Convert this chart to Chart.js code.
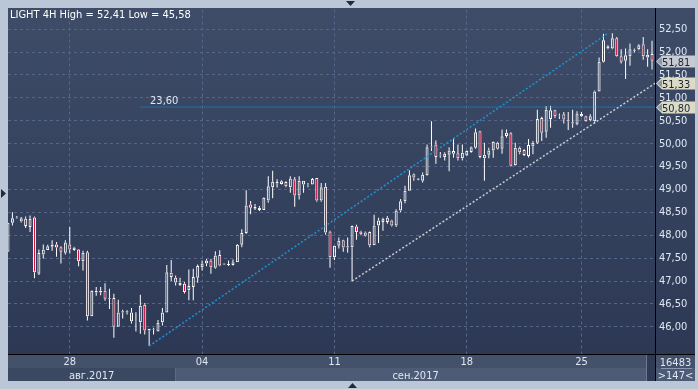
<!DOCTYPE html>
<html>
<head>
<meta charset="utf-8">
<script src="https://cdn.jsdelivr.net/npm/chart.js@4.4.0/dist/chart.umd.min.js"></script>
<style>
  html, body { margin: 0; padding: 0; background: #bbc7d6; }
  canvas { display: block; }
</style>
</head>
<body>
<canvas id="chart" width="698" height="389"></canvas>
<script>
// 4H candles, oldest first (147 visible bars)
const opens = [47.64,48.27,48.37,48.30,48.36,48.18,48.39,47.16,47.58,47.68,47.75,47.80,47.74,47.62,47.80,47.68,47.69,47.43,47.63,46.23,
  46.75,46.75,46.79,46.63,46.63,46.00,46.31,46.31,46.31,46.10,46.10,46.48,45.96,45.93,45.90,46.10,46.31,47.18,47.07,46.91,
  46.94,46.80,46.87,47.07,47.30,47.38,47.45,47.29,47.57,47.36,47.35,47.35,47.41,47.79,48.05,48.67,48.58,48.55,48.55,48.76,
  49.05,49.13,49.12,49.16,49.05,49.22,48.87,49.19,49.10,49.11,49.25,48.76,49.06,48.08,47.52,47.77,47.89,47.76,47.74,48.19,
  48.08,48.06,48.07,47.78,48.21,48.29,48.38,48.32,48.21,48.54,48.74,48.97,49.33,49.24,49.19,49.31,49.92,49.98,49.74,49.71,
  49.76,49.84,49.79,49.68,49.74,49.82,49.91,50.27,49.68,49.76,49.85,50.02,49.89,50.17,50.23,49.53,49.91,49.86,49.73,49.94,
  50.02,50.56,50.26,50.54,50.73,50.61,50.64,50.51,50.47,50.42,50.60,50.60,50.51,50.49,51.14,51.79,52.08,52.08,52.30,51.91,
  51.81,51.91,52.03,52.06,52.17,51.88,51.96];
const highs = [48.27,48.50,48.42,48.40,48.41,48.43,48.41,47.69,47.80,47.79,47.89,47.85,47.76,47.89,48.18,47.75,47.70,47.66,47.66,46.80,
  46.87,46.87,46.95,46.83,46.72,46.59,46.37,46.36,46.41,46.32,46.70,46.52,45.96,45.98,46.15,46.41,47.35,47.46,47.12,47.07,
  46.98,47.25,47.27,47.36,47.45,47.48,47.48,47.65,47.67,47.39,47.45,47.47,47.81,48.13,48.98,48.75,48.68,48.64,48.83,49.29,
  49.41,49.22,49.20,49.18,49.29,49.27,49.29,49.19,49.14,49.25,49.25,49.14,49.14,48.10,47.77,47.95,47.90,47.95,48.21,48.23,
  48.10,48.08,48.08,48.45,48.38,48.38,48.42,48.34,48.57,48.79,49.08,49.42,49.35,49.25,49.37,49.98,50.49,50.07,49.82,49.81,
  49.92,50.12,49.98,49.98,49.85,49.94,50.33,50.28,50.02,49.91,50.05,50.04,50.31,50.31,50.25,50.02,49.94,49.88,50.10,50.06,
  50.74,50.59,50.82,50.83,50.74,50.66,50.69,50.69,50.74,50.71,50.69,50.61,50.64,51.16,51.88,52.40,52.15,52.41,52.33,52.06,
  52.08,52.19,52.08,52.17,52.33,52.06,52.25];
const lows = [47.64,48.21,48.36,48.28,48.16,48.07,47.06,47.13,47.49,47.68,47.66,47.53,47.38,47.58,47.60,47.66,47.32,47.23,46.14,46.23,
  46.68,46.69,46.57,46.39,45.76,46.00,46.18,46.27,46.07,45.90,45.85,45.83,45.58,45.83,45.90,46.03,46.31,47.00,46.90,46.89,
  46.73,46.58,46.58,46.96,47.23,47.32,47.16,47.27,47.32,47.35,47.33,47.34,47.41,47.74,48.03,48.46,48.55,48.53,48.55,48.71,
  48.81,49.04,49.11,49.05,48.93,48.62,48.78,48.93,49.05,49.11,48.73,48.73,48.01,47.29,47.46,47.71,47.64,47.62,47.00,47.90,
  48.00,47.97,47.74,47.78,47.83,48.10,48.25,48.19,48.18,48.50,48.70,48.97,49.19,49.20,49.15,49.30,49.84,49.56,49.69,49.63,
  49.40,49.69,49.63,49.63,49.73,49.80,49.89,49.68,49.19,49.68,49.69,49.87,49.78,50.13,49.50,49.52,49.77,49.73,49.70,49.77,
  49.99,50.06,50.13,50.35,50.56,50.54,50.44,50.30,50.35,50.40,50.58,50.48,50.49,50.44,51.14,51.77,52.06,52.06,51.90,51.75,
  51.41,51.70,51.99,52.04,51.83,51.68,51.62];
const closes = [48.27,48.37,48.39,48.37,48.20,48.36,47.19,47.61,47.69,47.76,47.80,47.73,47.64,47.84,47.69,47.73,47.43,47.62,46.23,46.79,
  46.79,46.79,46.61,46.61,46.00,46.31,46.34,46.34,46.12,46.11,46.46,45.92,45.92,45.94,46.09,46.31,47.19,47.09,46.97,46.96,
  46.76,46.89,47.09,47.33,47.38,47.45,47.30,47.56,47.34,47.38,47.37,47.41,47.79,48.05,48.65,48.60,48.62,48.60,48.82,49.07,
  49.17,49.16,49.18,49.07,49.24,48.87,49.19,49.11,49.09,49.23,48.76,49.05,48.06,47.52,47.77,47.88,47.73,47.73,48.20,48.07,
  48.02,47.99,47.78,48.21,48.32,48.36,48.29,48.21,48.54,48.74,48.97,49.31,49.26,49.21,49.32,49.92,49.94,49.71,49.76,49.78,
  49.85,49.78,49.68,49.80,49.84,49.92,50.25,49.71,49.76,49.85,50.04,49.89,50.16,50.24,49.52,49.91,49.81,49.75,49.97,50.02,
  50.54,50.24,50.74,50.73,50.60,50.60,50.53,50.49,50.44,50.66,50.65,50.49,50.60,51.14,51.79,52.26,52.13,52.30,51.91,51.79,
  51.93,52.06,52.05,52.15,51.91,51.94,51.81];

// axis ticks
const yTicks = [46, 46.5, 47, 47.5, 48, 48.5, 49, 49.5, 50, 50.5, 51, 51.5, 52, 52.5];
const xTickIdx = [14, 44, 74, 104, 130];
const xTickLabels = ['28', '04', '11', '18', '25'];
const months = ['авг.2017', 'сен.2017'];
const monthStartIdx = [0, 37.9];

// drawn objects
const upperLine = [{ x: 32, y: 45.58 }, { x: 136, y: 52.41 }];
const lowerLine = [{ x: 78, y: 47.00 }, { x: 146.9, y: 51.33 }];
const levelLine = [{ x: 30, y: 50.80 }, { x: 146.9, y: 50.80 }];
const levelLabel = '23,60';
const tagValues = [51.81, 51.33, 50.80];
const titleText = 'LIGHT 4H High = 52,41 Low = 45,58';
const barTotal = '16483';
const barsVisible = '>147<';

const FONT = '"Liberation Sans Narrow", "DejaVu Sans Condensed", "Arial Narrow", sans-serif';
const TEXT = '#dfe7f2';
const RED = '#e0103c';
const X_MAX = 146.9;

function fmt(v) {
  return v.toFixed(2).replace('.', ',');
}

const idx = opens.map((_, i) => i);
const lowerWick = idx.map(i => ({ x: i, y: [lows[i], Math.min(opens[i], closes[i])] }));
const upperWick = idx.map(i => ({ x: i, y: [Math.max(opens[i], closes[i]), highs[i]] }));
const bodies = idx.map(i => ({ x: i, y: [opens[i], closes[i]] }));
const bodyFill = idx.map(i => closes[i] >= opens[i] ? 'rgba(0,0,0,0)' : RED);

// panel backgrounds, frame, tags and the extra texts
const terminalPlugin = {
  id: 'terminal',
  beforeDraw(chart) {
    const ctx = chart.ctx;
    const xs = chart.scales.x;
    ctx.save();
    ctx.fillStyle = '#bbc7d6';
    ctx.fillRect(0, 0, 698, 389);
    const g = ctx.createLinearGradient(0, 8, 0, 354);
    g.addColorStop(0, '#3e4c67');
    g.addColorStop(1, '#2d3954');
    ctx.fillStyle = g;
    ctx.fillRect(8, 8, 687, 346);
    // date row
    ctx.fillStyle = '#43516b';
    ctx.fillRect(8, 354, 687, 14);
    // month row
    const sep = xs.getPixelForValue(monthStartIdx[1]);
    ctx.fillStyle = '#3b4862';
    ctx.fillRect(8, 368, sep - 8, 13);
    ctx.fillStyle = '#4d5b76';
    ctx.fillRect(sep, 368, 695 - sep, 13);
    // scroller stub
    ctx.fillStyle = '#2f3b55';
    ctx.fillRect(647, 355, 8, 26);
    ctx.fillStyle = '#6c7893';
    ctx.fillRect(646, 355, 1, 26);
    // right bottom box separator
    ctx.fillStyle = '#8a97ad';
    ctx.fillRect(661, 368, 31, 1);
    ctx.restore();
  },
  afterDraw(chart) {
    const ctx = chart.ctx;
    const xs = chart.scales.x;
    const ys = chart.scales.y;
    ctx.save();
    // separators
    ctx.fillStyle = '#000';
    ctx.fillRect(8, 354, 687, 1);
    ctx.fillRect(655, 8, 1, 373);

    ctx.font = '11px ' + FONT;
    ctx.textBaseline = 'alphabetic';
    ctx.fillStyle = '#ffffff';
    ctx.fillText(titleText, 10, 18);

    ctx.fillStyle = TEXT;
    ctx.fillText(levelLabel, xs.getPixelForValue(32.2), ys.getPixelForValue(levelLine[0].y) - 3);

    // month labels
    ctx.textAlign = 'center';
    const edges = monthStartIdx.map(v => xs.getPixelForValue(v)).concat([xs.getPixelForValue(X_MAX)]);
    months.forEach((m, i) => {
      ctx.fillText(m, (edges[i] + edges[i + 1]) / 2, 378.5);
    });
    ctx.fillText(barTotal, 675.5, 365.5);
    ctx.fillText(barsVisible, 675.5, 378.5);

    // price tags
    const tagFill = ['#c6cbd3', '#dcdcc6', '#dcdcc6'];
    ctx.textAlign = 'left';
    tagValues.forEach((v, i) => {
      const cy = Math.round(ys.getPixelForValue(v));
      ctx.beginPath();
      ctx.moveTo(656, cy + 0.5);
      ctx.lineTo(662, cy - 5.5);
      ctx.lineTo(695, cy - 5.5);
      ctx.lineTo(695, cy + 6.5);
      ctx.lineTo(662, cy + 6.5);
      ctx.closePath();
      ctx.fillStyle = tagFill[i];
      ctx.fill();
      ctx.beginPath();
      ctx.moveTo(657, cy + 0.5);
      ctx.lineTo(662, cy - 3.5);
      ctx.lineTo(662, cy + 4.5);
      ctx.closePath();
      ctx.fillStyle = '#8e96a3';
      ctx.fill();
      ctx.fillStyle = '#1c2433';
      ctx.fillText(fmt(v), 662, cy + 4.5);
    });

    // frame arrows
    ctx.fillStyle = '#1f2a3a';
    [[[346, 1], [355, 1], [350.5, 6]], [[1, 189], [1, 198], [6, 193.5]], [[348, 388], [357, 388], [352.5, 383]]].forEach(tri => {
      ctx.beginPath();
      ctx.moveTo(tri[0][0], tri[0][1]);
      ctx.lineTo(tri[1][0], tri[1][1]);
      ctx.lineTo(tri[2][0], tri[2][1]);
      ctx.closePath();
      ctx.fill();
    });
    ctx.restore();
  }
};

Chart.defaults.font.family = FONT;
Chart.defaults.font.size = 11;

const barCommon = {
  type: 'bar',
  grouped: false,
  borderSkipped: false,
  inflateAmount: 0,
  clip: 0,
};

new Chart(document.getElementById('chart'), {
  data: {
    datasets: [
      { type: 'line', data: upperLine, borderColor: '#1d93d8', borderWidth: 1.5, borderDash: [2, 2], pointRadius: 0, clip: 0, order: 0 },
      { type: 'line', data: lowerLine, borderColor: '#c9ccd3', borderWidth: 1.5, borderDash: [2, 2], pointRadius: 0, clip: 0, order: 0 },
      { type: 'line', data: levelLine, borderColor: '#1d93d8', borderWidth: 1, borderDash: [1, 1], pointRadius: 0, clip: 0, order: 0 },
      { ...barCommon, data: bodies, backgroundColor: bodyFill, borderColor: '#ffffff', borderWidth: 1, barThickness: 3, order: 1 },
      { ...barCommon, data: lowerWick, backgroundColor: '#ffffff', borderWidth: 0, barThickness: 1, order: 2 },
      { ...barCommon, data: upperWick, backgroundColor: '#ffffff', borderWidth: 0, barThickness: 1, order: 2 },
    ],
  },
  options: {
    responsive: false,
    animation: false,
    devicePixelRatio: 1,
    layout: { padding: { left: 8, top: 8, right: 0, bottom: 0 } },
    plugins: { legend: { display: false }, tooltip: { enabled: false } },
    scales: {
      x: {
        type: 'linear',
        position: 'bottom',
        offset: false,
        bounds: 'data',
        min: 0,
        max: X_MAX,
        afterBuildTicks: (s) => { s.ticks = xTickIdx.map(v => ({ value: v })); },
        afterFit: (s) => { s.height = 35; },
        ticks: {
          autoSkip: false,
          maxRotation: 0,
          padding: 2,
          color: TEXT,
          callback: (v, i) => xTickLabels[i],
        },
        grid: { color: '#56668a', drawTicks: false, offset: false },
        border: { display: false, dash: [3, 3] },
      },
      y: {
        type: 'linear',
        position: 'right',
        min: 45.406,
        max: 52.928,
        afterBuildTicks: (s) => { s.ticks = yTicks.map(v => ({ value: v })); },
        afterFit: (s) => { s.width = 42; },
        ticks: {
          padding: 3,
          color: TEXT,
          callback: (v) => fmt(v),
        },
        grid: { color: '#56668a', drawTicks: false },
        border: { display: false, dash: [3, 3] },
      },
    },
  },
  plugins: [terminalPlugin],
});
</script>
</body>
</html>
